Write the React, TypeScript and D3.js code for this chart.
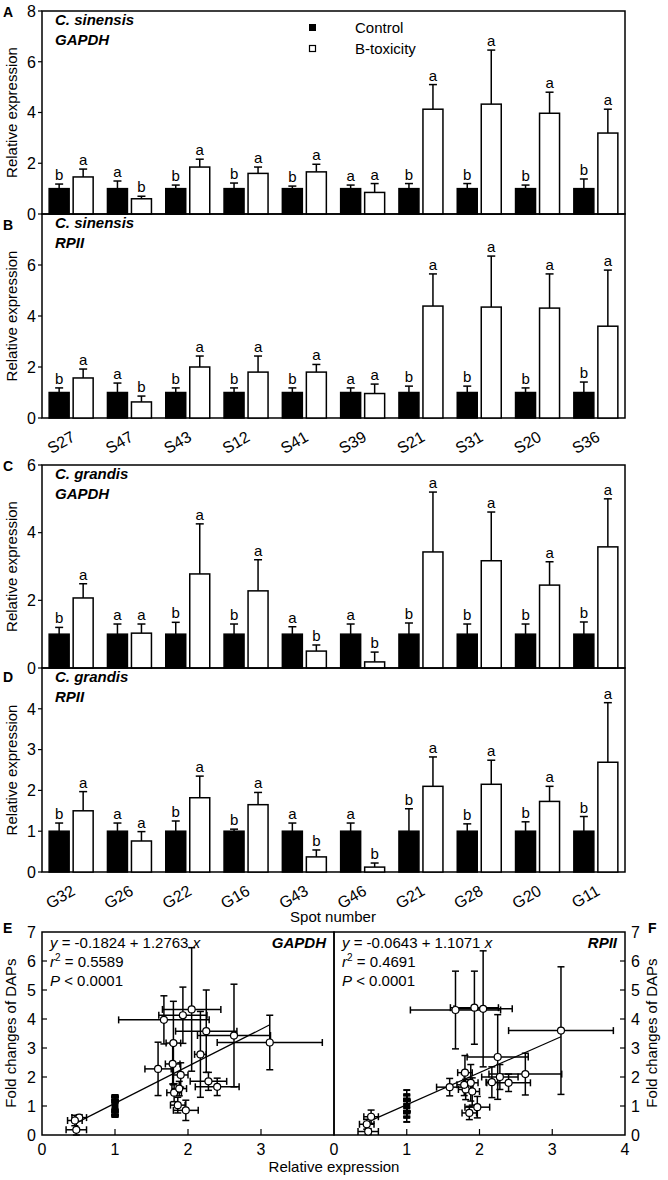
import React from 'react';
import * as d3 from 'd3';

// spot names
const sinensisSpots = ['S27', 'S47', 'S43', 'S12', 'S41', 'S39', 'S21', 'S31', 'S20', 'S36'];
const grandisSpots = ['G32', 'G26', 'G22', 'G16', 'G43', 'G46', 'G21', 'G28', 'G20', 'G11'];

// control bars are all 1.0, only the errors differ
const controlMean = [1, 1, 1, 1, 1, 1, 1, 1, 1, 1];

// A: C. sinensis, GAPDH
const aCtrlErr = [0.18, 0.3, 0.14, 0.22, 0.1, 0.14, 0.2, 0.2, 0.14, 0.38];
const aTrtMean = [1.46, 0.6, 1.85, 1.6, 1.66, 0.85, 4.13, 4.33, 3.97, 3.19];
const aTrtErr = [0.31, 0.1, 0.31, 0.25, 0.3, 0.35, 0.97, 2.13, 0.83, 0.94];
// B: C. sinensis, RPII
const bCtrlErr = [0.18, 0.37, 0.18, 0.18, 0.18, 0.18, 0.25, 0.25, 0.18, 0.41];
const bTrtMean = [1.57, 0.63, 2.0, 1.8, 1.8, 0.96, 4.39, 4.35, 4.31, 3.6];
const bTrtErr = [0.35, 0.23, 0.43, 0.63, 0.3, 0.37, 1.26, 2.0, 1.34, 2.2];
// C: C. grandis, GAPDH
const cCtrlErr = [0.2, 0.3, 0.35, 0.3, 0.22, 0.3, 0.33, 0.3, 0.3, 0.36];
const cTrtMean = [2.07, 1.03, 2.78, 2.28, 0.5, 0.18, 3.43, 3.17, 2.45, 3.58];
const cTrtErr = [0.42, 0.27, 1.48, 0.92, 0.18, 0.29, 1.77, 1.44, 0.69, 1.42];
// D: C. grandis, RPII
const dCtrlErr = [0.2, 0.2, 0.25, 0.05, 0.2, 0.2, 0.55, 0.18, 0.23, 0.36];
const dTrtMean = [1.5, 0.76, 1.82, 1.65, 0.37, 0.12, 2.1, 2.15, 1.73, 2.69];
const dTrtErr = [0.47, 0.23, 0.53, 0.3, 0.17, 0.1, 0.72, 0.59, 0.37, 1.46];

// significance letters
const sinCtrlLetters = ['b', 'a', 'b', 'b', 'b', 'a', 'b', 'b', 'b', 'b'];
const sinTrtLetters = ['a', 'b', 'a', 'a', 'a', 'a', 'a', 'a', 'a', 'a'];
const graCtrlLetters = ['b', 'a', 'b', 'b', 'a', 'a', 'b', 'b', 'b', 'b'];
const graTrtLetters = ['a', 'a', 'a', 'a', 'b', 'b', 'a', 'a', 'a', 'a'];

// fold changes of DAPs (x of the scatter plots) with their errors
const sinDap = [1.81, 0.51, 2.28, 1.88, 2.4, 1.97, 1.93, 2.05, 1.67, 3.12];
const sinDapErr = [0.1, 0.1, 0.25, 0.1, 0.3, 0.17, 0.33, 0.4, 0.62, 0.72];
const graDap = [1.9, 1.86, 2.17, 1.59, 0.45, 0.47, 2.63, 1.8, 1.79, 2.25];
const graDapErr = [0.1, 0.1, 0.08, 0.18, 0.1, 0.14, 0.5, 0.1, 0.1, 0.42];

const FONT = 'Liberation Sans, Arial, sans-serif';
const L = 42;
const R = 625;

interface BarPanelProps {
  spots: string[];
  top: number;
  bottom: number;
  yMax: number;
  ticks: number[];
  ctrlErr: number[];
  trtMean: number[];
  trtErr: number[];
  ctrlLetters: string[];
  trtLetters: string[];
  letter: string;
  letterY: number;
  species: string;
  gene: string;
}

const BarPanel = (p: BarPanelProps) => {
  const x0 = d3.scaleBand().domain(p.spots).range([L, R]);
  const bw = x0.bandwidth();
  const x1 = d3.scaleBand().domain(['ctrl', 'trt']).range([(bw - 44) / 2, (bw + 44) / 2]).paddingInner(0.167);
  const y = d3.scaleLinear().domain([0, p.yMax]).range([p.bottom, p.top]);
  const groups = [
    { key: 'ctrl', mean: controlMean, err: p.ctrlErr, letters: p.ctrlLetters, fill: '#000' },
    { key: 'trt', mean: p.trtMean, err: p.trtErr, letters: p.trtLetters, fill: '#fff' },
  ];
  return (
    <g>
      <rect x={L} y={p.top} width={R - L} height={p.bottom - p.top} fill="none" stroke="#000" strokeWidth={1.5} />
      {p.ticks.map(t => (
        <g key={t}>
          <line x1={L - 4} x2={L} y1={y(t)} y2={y(t)} stroke="#000" strokeWidth={1.2} />
          <text x={L - 6} y={y(t)} dy="0.36em" textAnchor="end" fontSize={16}>{t}</text>
        </g>
      ))}
      <text transform={`translate(17,${(p.top + p.bottom) / 2}) rotate(-90)`} textAnchor="middle" fontSize={15}>
        Relative expression
      </text>
      <text x={3} y={p.letterY} fontSize={14} fontWeight="bold">{p.letter}</text>
      <text x={55} y={p.top + 14} fontSize={15} fontWeight="bold" fontStyle="italic">{p.species}</text>
      <text x={55} y={p.top + 34} fontSize={15} fontWeight="bold" fontStyle="italic">{p.gene}</text>
      {p.spots.map((s, i) =>
        groups.map(g => {
          const bx = (x0(s) as number) + (x1(g.key) as number);
          const w = x1.bandwidth();
          const cx = bx + w / 2;
          const yt = y(g.mean[i]);
          const ye = y(g.mean[i] + g.err[i]);
          return (
            <g key={s + g.key}>
              <line x1={cx} x2={cx} y1={yt} y2={ye} stroke="#000" strokeWidth={1.5} />
              <line x1={cx - 4} x2={cx + 4} y1={ye} y2={ye} stroke="#000" strokeWidth={1.5} />
              <rect x={bx} y={yt} width={w} height={p.bottom - yt} fill={g.fill} stroke="#000" strokeWidth={1.5} />
              <text x={cx} y={ye - 4} textAnchor="middle" fontSize={15}>{g.letters[i]}</text>
            </g>
          );
        })
      )}
    </g>
  );
};

const SpotLabels = ({ spots, bottom }: { spots: string[]; bottom: number }) => {
  const x0 = d3.scaleBand().domain(spots).range([L, R]);
  return (
    <g>
      {spots.map(s => (
        <text
          key={s}
          transform={`translate(${(x0(s) as number) + x0.bandwidth() / 2 + 5},${bottom + 22}) rotate(-30)`}
          textAnchor="end"
          fontSize={16}
        >
          {s}
        </text>
      ))}
    </g>
  );
};

interface ScatterProps {
  left: number;
  right: number;
  side: 'left' | 'right';
  xTickLabels: number[];
  gene: string;
  intercept: number;
  slope: number;
  eq: string;
  r2: string;
  ctrlErrs: number[];
  ys: number[];
  yErrs: number[];
  letter: string;
}

const TOP = 932;
const BOT = 1135;

const ScatterPanel = (p: ScatterProps) => {
  const x = d3.scaleLinear().domain([0, 4]).range([p.left, p.right]);
  const y = d3.scaleLinear().domain([0, 7]).range([BOT, TOP]);
  const dap = [...sinDap, ...graDap];
  const dapErr = [...sinDapErr, ...graDapErr];
  const ext = d3.extent(dap) as [number, number];
  const line = d3.line<number>().x(d => x(d)).y(d => y(p.intercept + p.slope * d));
  const axisX = p.side === 'left' ? p.left : p.right;
  const dir = p.side === 'left' ? 1 : -1;
  const cap = 3.5;
  return (
    <g>
      <rect x={p.left} y={TOP} width={p.right - p.left} height={BOT - TOP} fill="none" stroke="#000" strokeWidth={1.5} />
      {d3.range(0, 8).map(t => (
        <g key={t}>
          {t > 0 && t < 7 && <line x1={axisX} x2={axisX + dir * 5} y1={y(t)} y2={y(t)} stroke="#000" strokeWidth={1.2} />}
          <text x={axisX - dir * 6} y={y(t)} dy="0.36em" textAnchor={p.side === 'left' ? 'end' : 'start'} fontSize={16}>{t}</text>
        </g>
      ))}
      {p.xTickLabels.map(t => (
        <g key={t}>
          {t > 0 && t < 4 && <line x1={x(t)} x2={x(t)} y1={BOT} y2={BOT - 6} stroke="#000" strokeWidth={1.2} />}
          <text x={x(t)} y={BOT + 20} textAnchor="middle" fontSize={16}>{t}</text>
        </g>
      ))}
      {/* controls */}
      {p.ctrlErrs.map((e, i) => (
        <g key={'c' + i}>
          <line x1={x(1)} x2={x(1)} y1={y(1 - e)} y2={y(1 + e)} stroke="#000" strokeWidth={1.5} />
          <line x1={x(1) - cap} x2={x(1) + cap} y1={y(1 - e)} y2={y(1 - e)} stroke="#000" strokeWidth={2} />
          <line x1={x(1) - cap} x2={x(1) + cap} y1={y(1 + e)} y2={y(1 + e)} stroke="#000" strokeWidth={2} />
        </g>
      ))}
      <rect x={x(1) - 3.5} y={y(1) - 3.5} width={7} height={7} fill="#000" />
      <path d={line(ext) as string} fill="none" stroke="#000" strokeWidth={1.2} />
      {dap.map((d, i) => {
        const cx = x(d);
        const cy = y(p.ys[i]);
        const xl = x(d - dapErr[i]);
        const xr = x(d + dapErr[i]);
        const yb = y(Math.max(0, p.ys[i] - p.yErrs[i]));
        const yt = y(p.ys[i] + p.yErrs[i]);
        return (
          <g key={i} stroke="#000" strokeWidth={1.5}>
            <line x1={xl} x2={xr} y1={cy} y2={cy} />
            <line x1={xl} x2={xl} y1={cy - cap} y2={cy + cap} />
            <line x1={xr} x2={xr} y1={cy - cap} y2={cy + cap} />
            <line x1={cx} x2={cx} y1={yb} y2={yt} />
            <line x1={cx - cap} x2={cx + cap} y1={yb} y2={yb} />
            <line x1={cx - cap} x2={cx + cap} y1={yt} y2={yt} />
          </g>
        );
      })}
      {dap.map((d, i) => (
        <circle key={'p' + i} cx={x(d)} cy={y(p.ys[i])} r={3.5} fill="#fff" stroke="#000" strokeWidth={1.2} />
      ))}
      <text x={p.left + 8} y={TOP + 16} fontSize={15}>
        <tspan fontStyle="italic">y</tspan>{` = ${p.eq} `}<tspan fontStyle="italic">x</tspan>
      </text>
      <text x={p.left + 8} y={TOP + 35} fontSize={15}>
        <tspan fontStyle="italic">r</tspan>
        <tspan fontSize={10} dy={-6}>2</tspan>
        <tspan dy={6}>{` = ${p.r2}`}</tspan>
      </text>
      <text x={p.left + 8} y={TOP + 54} fontSize={15}>
        <tspan fontStyle="italic">P</tspan>{' < 0.0001'}
      </text>
      <text x={p.right - 8} y={TOP + 16} textAnchor="end" fontSize={15} fontWeight="bold" fontStyle="italic">{p.gene}</text>
    </g>
  );
};

const App = () => {
  return (
    <svg width={668} height={1180} style={{ position: 'absolute', left: 0, top: 0, background: '#fff' }} fontFamily={FONT}>
      <rect width={668} height={1180} fill="#fff" />
      <BarPanel spots={sinensisSpots} top={11} bottom={214} yMax={8} ticks={[0, 2, 4, 6, 8]}
        ctrlErr={aCtrlErr} trtMean={aTrtMean} trtErr={aTrtErr} ctrlLetters={sinCtrlLetters} trtLetters={sinTrtLetters}
        letter="A" letterY={17} species="C. sinensis" gene="GAPDH" />
      <BarPanel spots={sinensisSpots} top={214} bottom={418} yMax={8} ticks={[0, 2, 4, 6]}
        ctrlErr={bCtrlErr} trtMean={bTrtMean} trtErr={bTrtErr} ctrlLetters={sinCtrlLetters} trtLetters={sinTrtLetters}
        letter="B" letterY={230} species="C. sinensis" gene="RPII" />
      <SpotLabels spots={sinensisSpots} bottom={418} />
      <BarPanel spots={grandisSpots} top={465} bottom={668} yMax={6} ticks={[0, 2, 4, 6]}
        ctrlErr={cCtrlErr} trtMean={cTrtMean} trtErr={cTrtErr} ctrlLetters={graCtrlLetters} trtLetters={graTrtLetters}
        letter="C" letterY={471} species="C. grandis" gene="GAPDH" />
      <BarPanel spots={grandisSpots} top={668} bottom={872} yMax={5} ticks={[0, 1, 2, 3, 4]}
        ctrlErr={dCtrlErr} trtMean={dTrtMean} trtErr={dTrtErr} ctrlLetters={graCtrlLetters} trtLetters={graTrtLetters}
        letter="D" letterY={682} species="C. grandis" gene="RPII" />
      <SpotLabels spots={grandisSpots} bottom={872} />
      <text x={333} y={922} textAnchor="middle" fontSize={15}>Spot number</text>

      {/* legend */}
      <rect x={309} y={24} width={7} height={7} fill="#000" />
      <rect x={309.5} y={45.5} width={6} height={6} fill="#fff" stroke="#000" strokeWidth={1.2} />
      <text x={355} y={33} fontSize={15}>Control</text>
      <text x={355} y={54} fontSize={15}>B-toxicity</text>

      <ScatterPanel left={42} right={334} side="left" xTickLabels={[0, 1, 2, 3]} gene="GAPDH"
        intercept={-0.1824} slope={1.2763} eq="-0.1824 + 1.2763" r2="0.5589"
        ctrlErrs={[...aCtrlErr, ...cCtrlErr]} ys={[...aTrtMean, ...cTrtMean]} yErrs={[...aTrtErr, ...cTrtErr]} letter="E" />
      <ScatterPanel left={334} right={625} side="right" xTickLabels={[0, 1, 2, 3, 4]} gene="RPII"
        intercept={-0.0643} slope={1.1071} eq="-0.0643 + 1.1071" r2="0.4691"
        ctrlErrs={[...bCtrlErr, ...dCtrlErr]} ys={[...bTrtMean, ...dTrtMean]} yErrs={[...bTrtErr, ...dTrtErr]} letter="F" />
      <text x={3} y={933} fontSize={14} fontWeight="bold">E</text>
      <text x={648} y={933} fontSize={14} fontWeight="bold">F</text>
      <text transform="translate(16,1033) rotate(-90)" textAnchor="middle" fontSize={15}>Fold changes of DAPs</text>
      <text transform="translate(657,1033) rotate(-90)" textAnchor="middle" fontSize={15}>Fold changes of DAPs</text>
      <text x={334} y={1172} textAnchor="middle" fontSize={15}>Relative expression</text>
    </svg>
  );
};

export default App;
